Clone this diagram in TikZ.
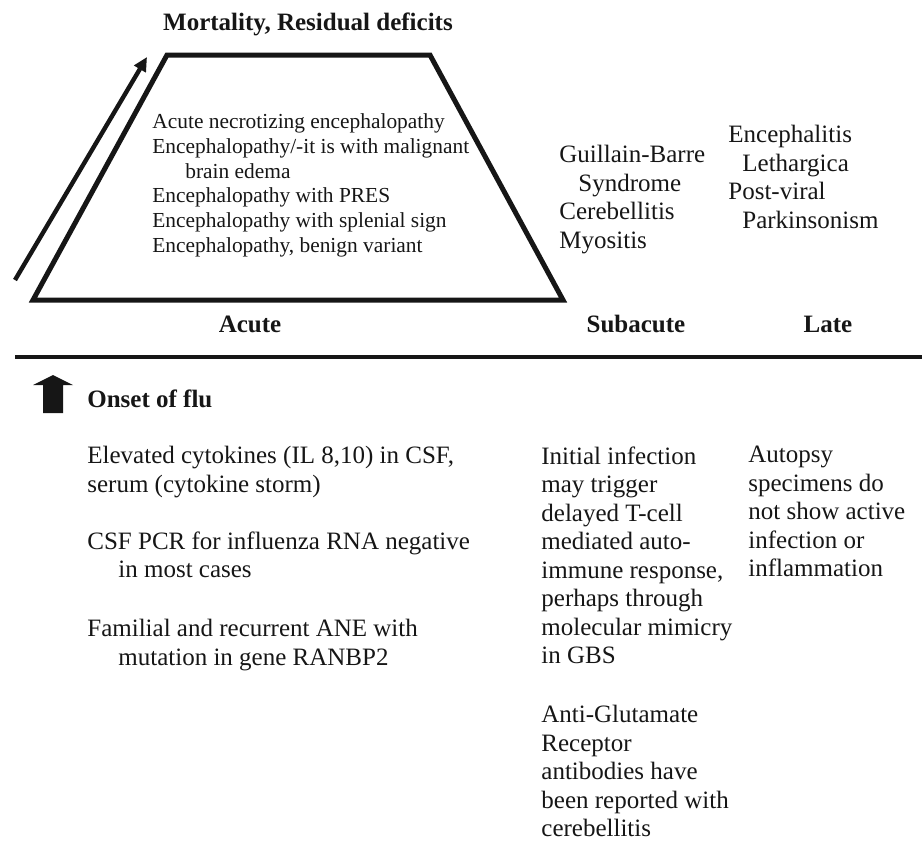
\documentclass[tikz,border=0pt]{standalone}
\usepackage{fontspec}
\setmainfont{Liberation Serif}
\usepackage{tikz}
\usetikzlibrary{arrows.meta, positioning}
\definecolor{myink}{RGB}{22,22,22}
\tikzset{
  heading/.style={font=\fontsize{12.5}{14.25}\selectfont\bfseries,
    text=myink, inner sep=0pt, anchor=base},
  trapnote/.style={font=\fontsize{10.7}{12.35}\selectfont,
    align=left, anchor=north west, inner sep=0pt, text=myink},
  note/.style={font=\fontsize{12.5}{14.25}\selectfont,
    align=left, anchor=north west, inner sep=0pt, text=myink},
  trapline/.style={line width=2.5pt, draw=myink, line join=miter},
  risearrow/.style={-{Triangle[length=7pt, width=6.5pt]}, line width=2.2pt, color=myink},
  timeline/.style={line width=2.1pt, color=myink},
  onsetfill/.style={fill=myink}
}

\begin{document}
\begin{tikzpicture}[x=0.5pt, y=-0.5pt]
  \useasboundingbox (0,0) rectangle (922,843);

  % Outcome label and rising severity arrow
  \node[heading] (outcome) at (308,30) {Mortality, Residual deficits};
  \coordinate (riseS) at (15,280);
  \coordinate (riseE) at (147,57);
  \draw[risearrow] (riseS) -- (riseE);

  % Acute spectrum (trapezoid)
  \draw[trapline] (33,300) -- (167,55) -- (430,55) -- (563,300) -- cycle;
  \node[trapnote] (acutelist) at (152,113.5) {Acute necrotizing encephalopathy\\
    Encephalopathy/-it is with malignant\\
    \hspace*{16.5pt}brain edema\\
    Encephalopathy with PRES\\
    Encephalopathy with splenial sign\\
    Encephalopathy, benign variant};

  % Subacute and late syndromes
  \node[note] (sublist) at (559,145) {Guillain-Barre\\
    \hspace*{9.5pt}Syndrome\\
    Cerebellitis\\
    Myositis};
  \node[note] (latelist) at (728,125) {Encephalitis\\
    \hspace*{7pt}Lethargica\\
    Post-viral\\
    \hspace*{7pt}Parkinsonism};

  % Phase headings and time axis
  \node[heading] (acute) at (250,332) {Acute};
  \node[heading] (subacute) at (636,332) {Subacute};
  \node[heading] (late) at (828,332) {Late};
  \coordinate (axisL) at (15,357);
  \coordinate (axisR) at (922,357);
  \draw[timeline] (axisL) -- (axisR);

  % Onset marker
  \fill[onsetfill] (43,413) -- (43,385) -- (33,385) -- (53,375) -- (73,385)
    -- (63,385) -- (63,413) -- cycle;
  \node[heading, anchor=base west] (onset) at (87,407) {Onset of flu};

  % Acute findings
  \node[note] (cyto) at (87,446) {Elevated cytokines (IL 8,10) in CSF,\\
    serum (cytokine storm)};
  \node[note] (pcr) at (87,531) {CSF PCR for influenza RNA negative\\
    \hspace*{15.5pt}in most cases};
  \node[note] (ane) at (87,619) {Familial and recurrent ANE with\\
    \hspace*{15.5pt}mutation in gene RANBP2};

  % Subacute findings
  \node[note] (tcell) at (541,446) {Initial infection\\
    may trigger\\
    delayed T-cell\\
    mediated auto-\\
    immune response,\\
    perhaps through\\
    molecular mimicry\\
    in GBS};
  \node[note] (glut) at (541,705) {Anti-Glutamate\\
    Receptor\\
    antibodies have\\
    been reported with\\
    cerebellitis};

  % Late findings
  \node[note] (autopsy) at (748,446) {Autopsy\\
    specimens do\\
    not show active\\
    infection or\\
    inflammation};
\end{tikzpicture}
\end{document}
